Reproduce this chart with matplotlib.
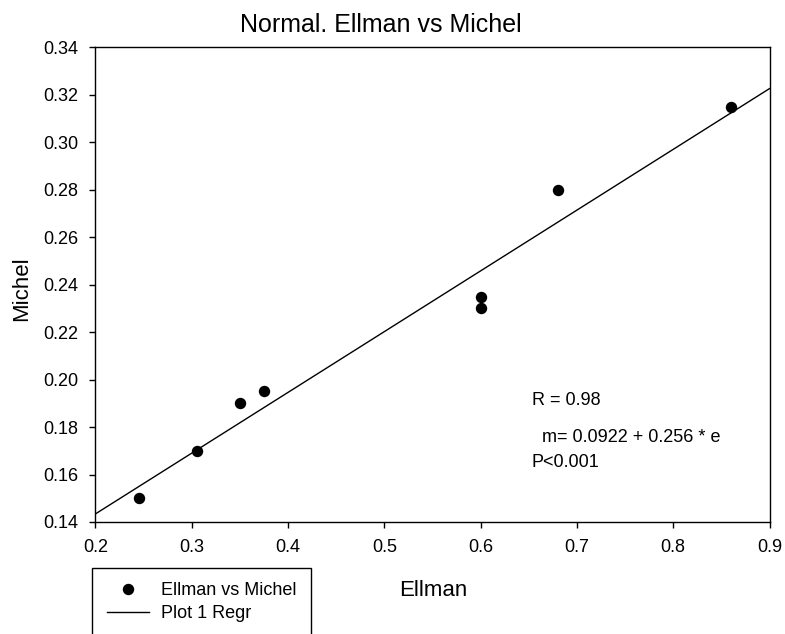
import matplotlib
matplotlib.use('Agg')
import matplotlib.pyplot as plt
import numpy as np

plt.rcParams['font.family'] = ['Liberation Sans', 'DejaVu Sans']

# data
ellman = [0.245, 0.305, 0.35, 0.375, 0.60, 0.60, 0.68, 0.86]
michel = [0.150, 0.170, 0.190, 0.195, 0.235, 0.230, 0.280, 0.315]
intercept = 0.0922
slope = 0.256
x_ticks = [0.2, 0.3, 0.4, 0.5, 0.6, 0.7, 0.8, 0.9]
y_ticks = [0.14, 0.16, 0.18, 0.20, 0.22, 0.24, 0.26, 0.28, 0.30, 0.32, 0.34]

W, H = 785, 634
fig = plt.figure(figsize=(W/100, H/100), dpi=100)
ax = fig.add_axes([95.4/W, 1 - 522/H, (769.5 - 95.4)/W, (522 - 47.3)/H])

ax.plot(ellman, michel, 'o', color='black', markersize=7.2, label='Ellman vs Michel')
xr = np.array([0.2, 0.9])
ax.plot(xr, intercept + slope*xr, '-', color='black', linewidth=1.0, label='Plot 1 Regr')

ax.set_xlim(0.2, 0.9)
ax.set_ylim(0.14, 0.34)
ax.set_xticks(x_ticks)
ax.set_xticklabels(['0.2', '0.3', '0.4', '0.5', '0.6', '0.7', '0.8', '0.9'])
ax.set_yticks(y_ticks)
ax.set_yticklabels(['%.2f' % v for v in y_ticks])
ax.tick_params(direction='out', length=4.5, width=1, labelsize=13, pad=7.5)
for s in ax.spines.values():
    s.set_linewidth(1.0)

# title, axis labels placed where the original has them
fig.text(381/W, 1 - 32/H, 'Normal. Ellman vs Michel', fontsize=18, ha='center', va='baseline')
fig.text(433/W, 1 - 596/H, 'Ellman', fontsize=16, ha='center', va='baseline')
fig.text(22/W, 1 - 288.5/H, 'Michel', fontsize=16, ha='center', va='center', rotation=90)

# stats text
fig.text(531.7/W, 1 - 405/H, 'R = 0.98', fontsize=13, va='baseline')
fig.text(541.7/W, 1 - 441.7/H, 'm= 0.0922 + 0.256 * e', fontsize=13, va='baseline')
fig.text(531.7/W, 1 - 467/H, 'P<0.001', fontsize=13, va='baseline')

leg = fig.legend(loc='upper left', bbox_to_anchor=(92.3/W, 1 - 568/H), fontsize=13,
                 fancybox=False, edgecolor='black', framealpha=1, borderpad=0.8,
                 handlelength=2.33, handletextpad=0.66, labelspacing=0.33, borderaxespad=0)
leg.get_frame().set_linewidth(1.0)

fig.savefig('out.png', dpi=100)
